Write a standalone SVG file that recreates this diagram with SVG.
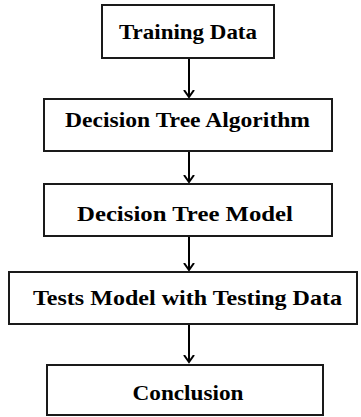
<svg xmlns="http://www.w3.org/2000/svg" width="361" height="417" viewBox="0 0 361 417">
<style>
.box{fill:#fff;stroke:#1a1a1a;stroke-width:2}
.lbl{font-family:"Liberation Serif","Times New Roman",Times,serif;font-weight:700;font-size:22px;fill:#000;text-anchor:middle}
.con{stroke:#000;stroke-width:2;fill:none}
</style>
<defs>
<marker id="arr" markerUnits="userSpaceOnUse" markerWidth="14" markerHeight="14" viewBox="-7 -7 14 14" refX="0" refY="0" orient="auto">
<path d="M-7,-5 L0,0 L-7,5" fill="none" stroke="#000" stroke-width="2"/>
</marker>
</defs>
<rect width="361" height="417" fill="#fff"/>
<g id="connectors">
<line class="con" x1="189" y1="58" x2="189" y2="97" marker-end="url(#arr)"/>
<line class="con" x1="189" y1="151" x2="189" y2="182" marker-end="url(#arr)"/>
<line class="con" x1="189" y1="236" x2="189" y2="270" marker-end="url(#arr)"/>
<line class="con" x1="189" y1="324" x2="189" y2="362" marker-end="url(#arr)"/>
</g>
<g id="training-data">
<rect class="box" x="102" y="5" width="172" height="53"/>
<text class="lbl" x="188" y="39" textLength="138" lengthAdjust="spacingAndGlyphs">Training Data</text>
</g>
<g id="decision-tree-algorithm">
<rect class="box" x="44" y="99" width="288" height="52"/>
<text class="lbl" x="187.5" y="127" textLength="245" lengthAdjust="spacingAndGlyphs">Decision Tree Algorithm</text>
</g>
<g id="decision-tree-model">
<rect class="box" x="44" y="184" width="288" height="52"/>
<text class="lbl" x="185" y="221" textLength="216" lengthAdjust="spacingAndGlyphs">Decision Tree Model</text>
</g>
<g id="tests-model">
<rect class="box" x="9" y="272" width="348" height="52"/>
<text class="lbl" x="187.5" y="305" textLength="309" lengthAdjust="spacingAndGlyphs">Tests Model with Testing Data</text>
</g>
<g id="conclusion">
<rect class="box" x="47" y="365" width="276" height="50"/>
<text class="lbl" x="188" y="400" textLength="111" lengthAdjust="spacingAndGlyphs">Conclusion</text>
</g>
</svg>
